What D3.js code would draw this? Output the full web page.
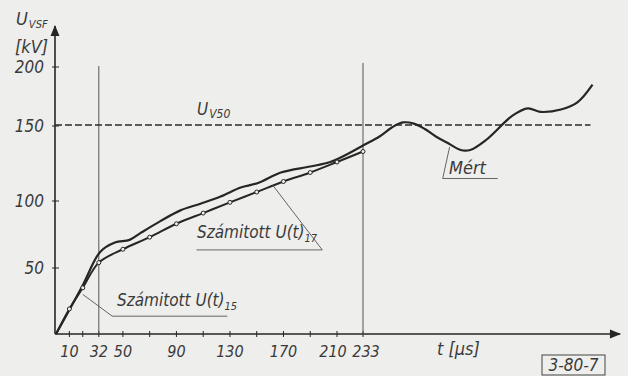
<!DOCTYPE html>
<html>
<head>
<meta charset="utf-8">
<script src="https://cdn.jsdelivr.net/npm/d3@7"></script>
<style>
  html, body { margin: 0; padding: 0; background: #eeeeec; }
  svg text { font-family: "DejaVu Sans Condensed", "DejaVu Sans", sans-serif; font-stretch: condensed; font-style: italic; fill: #3a3a3a; }
</style>
</head>
<body>
<div id="chart"></div>
<script>
// Tick values along t (µs) and U (kV)
const xTicks = [10, 20, 32, 50, 70, 90, 110, 130, 150, 170, 190, 210, 233];
const xTickLabels = [10, 32, 50, 90, 130, 170, 210, 233];
const yTicks = [50, 100, 150, 200];

const measuredT = [0, 20, 33, 44, 55, 63, 78, 93, 108, 123, 138, 151, 168, 190, 205, 221, 233, 245, 254, 262, 270, 278, 286, 294, 304, 311, 323, 342, 353, 362, 377, 389, 400];
const measuredU = [0, 37, 62, 69, 71, 76, 85, 93, 98, 103, 109, 112, 119, 123, 126, 132, 137, 143, 149, 153, 152, 148, 143, 139, 134, 134, 141, 159, 165, 162, 164, 170, 185];

// Computed curve (Számított), with markers at each tick
const computedT = [0, 10, 20, 32, 50, 70, 90, 110, 130, 150, 170, 190, 210, 233];
const computedU = [0, 19, 35, 54, 64, 73, 83, 91, 99, 106, 113, 119, 126, 133];

const u50 = 150;

const W = 628, H = 376;
const svg = d3.select('#chart').append('svg')
  .attr('width', W).attr('height', H)
  .style('background', '#eeeeec');

// hand-drawn axes are not quite uniform, so piecewise scales
const x = d3.scaleLinear().domain([0, 210, 233, 420]).range([56, 337, 363, 620]);
const y = d3.scaleLinear().domain([0, 50, 100, 150, 200]).range([334, 268, 201, 126, 67]);

const ink = '#262626';

// arrow marker
svg.append('defs').append('marker')
  .attr('id', 'arr').attr('viewBox', '0 0 10 10')
  .attr('refX', 9).attr('refY', 5)
  .attr('markerWidth', 9).attr('markerHeight', 7)
  .attr('orient', 'auto')
  .append('path').attr('d', 'M0,1L10,5L0,9Z').attr('fill', ink);

// axes
svg.append('line')
  .attr('x1', x(0) - 1).attr('x2', x(420)).attr('y1', y(0)).attr('y2', y(0))
  .attr('stroke', ink).attr('stroke-width', 1.6).attr('marker-end', 'url(#arr)');
svg.append('line')
  .attr('x1', x(0) - 1).attr('x2', x(0) - 1).attr('y1', y(0)).attr('y2', 26)
  .attr('stroke', ink).attr('stroke-width', 1.6).attr('marker-end', 'url(#arr)');

// x ticks
svg.append('g').selectAll('line').data(xTicks).join('line')
  .attr('x1', d => x(d)).attr('x2', d => x(d))
  .attr('y1', y(0) - 3).attr('y2', y(0) + 3)
  .attr('stroke', ink).attr('stroke-width', 1);
svg.append('g').selectAll('text').data(xTickLabels).join('text')
  .attr('x', d => x(d) + (d === 210 ? -4 : d === 233 ? 3 : 0)).attr('y', 357)
  .attr('text-anchor', 'middle')
  .attr('font-size', 16)
  .text(d => d);

// y ticks
svg.append('g').selectAll('line').data(yTicks).join('line')
  .attr('x1', x(0) - 4).attr('x2', x(0) + 3)
  .attr('y1', d => y(d)).attr('y2', d => y(d))
  .attr('stroke', ink).attr('stroke-width', 1);
svg.append('g').selectAll('text').data(yTicks).join('text')
  .attr('x', 44).attr('y', d => y(d) + 6)
  .attr('text-anchor', 'end')
  .attr('font-size', 17)
  .text(d => d);

// axis titles
const yt = svg.append('text').attr('x', 16).attr('y', 25).attr('font-size', 18);
yt.append('tspan').text('U');
yt.append('tspan').attr('font-size', 11).attr('dy', 3).attr('dx', 1).text('VSF');
svg.append('text').attr('x', 15).attr('y', 53).attr('font-size', 18).text('[kV]');
svg.append('text').attr('x', 437).attr('y', 355).attr('font-size', 18).text('t [µs]');

// vertical guide lines at t = 32 and t = 233
svg.append('line').attr('x1', x(32)).attr('x2', x(32)).attr('y1', 66).attr('y2', y(0))
  .attr('stroke', '#555').attr('stroke-width', 1);
svg.append('line').attr('x1', x(233)).attr('x2', x(233)).attr('y1', 63).attr('y2', y(0))
  .attr('stroke', '#555').attr('stroke-width', 1);

// U50 dashed level
svg.append('line')
  .attr('x1', x(0) - 1).attr('x2', x(400) - 2)
  .attr('y1', y(u50) - 1).attr('y2', y(u50) - 1)
  .attr('stroke', '#2a2a2a').attr('stroke-width', 1.3)
  .attr('stroke-dasharray', '7,3');
const ul = svg.append('text').attr('x', 197).attr('y', 115).attr('font-size', 17);
ul.append('tspan').text('U');
ul.append('tspan').attr('font-size', 12).attr('dy', 3).attr('dx', 1).text('V50');

// curves
const measured = measuredT.map((t, i) => [t, measuredU[i]]);
const computed = computedT.map((t, i) => [t, computedU[i]]);

const line = d3.line().x(d => x(d[0])).y(d => y(d[1])).curve(d3.curveCatmullRom.alpha(0.5));

svg.append('path').datum(computed)
  .attr('d', line)
  .attr('fill', 'none').attr('stroke', ink).attr('stroke-width', 2);

svg.append('path').datum(measured)
  .attr('d', line)
  .attr('fill', 'none').attr('stroke', ink).attr('stroke-width', 2.2);

svg.append('g').selectAll('circle').data(computed.slice(1)).join('circle')
  .attr('cx', d => x(d[0])).attr('cy', d => y(d[1]))
  .attr('r', 2)
  .attr('fill', '#eeeeec').attr('stroke', ink).attr('stroke-width', 1);

// annotation leaders (data coordinates)
const leaders = [
  [[20, 30], [42, 13.5], [128, 13.5]],
  [[162, 110.5], [199, 63.5], [105, 63.5]],
  [[296, 136], [291, 115], [331, 115]]
];
const leaderLine = d3.line().x(d => x(d[0])).y(d => y(d[1]));
svg.append('g').selectAll('path').data(leaders).join('path')
  .attr('d', leaderLine)
  .attr('fill', 'none').attr('stroke', '#555').attr('stroke-width', 0.9);

function subLabel(px, py, main, sub) {
  const t = svg.append('text').attr('x', px).attr('y', py).attr('font-size', 17);
  t.append('tspan').text(main);
  t.append('tspan').attr('font-size', 11).attr('dy', 4).text(sub);
}
subLabel(117, 306, 'Számitott U(t)', '15');
subLabel(197, 238, 'Számitott U(t)', '17');
svg.append('text').attr('x', 449).attr('y', 174).attr('font-size', 18).text('Mért');

// figure number box
svg.append('rect').attr('x', 542).attr('y', 355).attr('width', 63).attr('height', 20)
  .attr('fill', 'none').attr('stroke', '#444').attr('stroke-width', 1);
svg.append('text').attr('x', 573.5).attr('y', 371).attr('text-anchor', 'middle')
  .attr('font-size', 17).text('3-80-7');
</script>
</body>
</html>
